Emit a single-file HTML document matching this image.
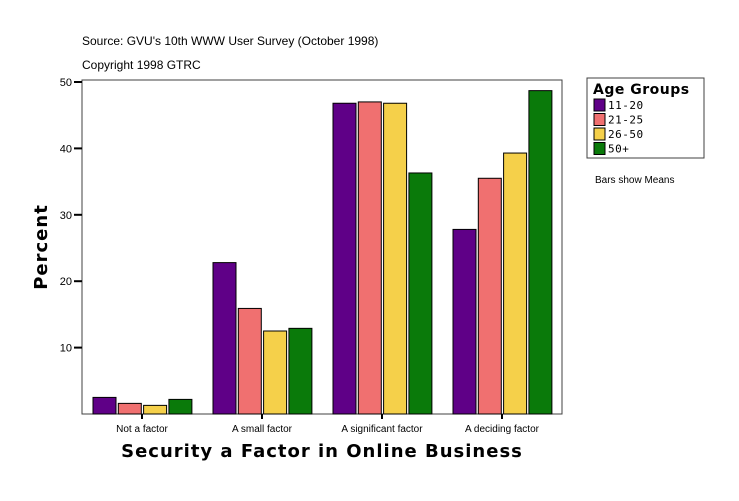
<!DOCTYPE html>
<html><head><style>
body{margin:0;background:#fff;width:739px;height:496px;overflow:hidden;font-family:"Liberation Sans",sans-serif}
</style></head><body>
<svg width="739" height="496" id="chart">
<text x="82" y="45" font-size="12">Source: GVU's 10th WWW User Survey (October 1998)</text>
<text x="82" y="69" font-size="12">Copyright 1998 GTRC</text>
<rect x="82" y="80" width="480" height="334" fill="#fff" stroke="#404040"/>
<g id="bars"></g><g id="axes"></g>
<text x="322" y="457" font-size="18" font-weight="bold" text-anchor="middle" font-family="DejaVu Sans" letter-spacing="1">Security a Factor in Online Business</text>
<text transform="translate(47,247) rotate(-90)" font-size="18" font-weight="bold" text-anchor="middle" font-family="DejaVu Sans" letter-spacing="1">Percent</text>
<g>
<rect x="587" y="78" width="117" height="80" fill="#fff" stroke="#404040"/>
<text x="593" y="94" font-size="14" font-weight="bold" font-family="DejaVu Sans" letter-spacing="0.5">Age Groups</text>
<g id="legend-items"></g>
</g>
<text x="595" y="183" font-size="10">Bars show Means</text>
</svg>
<script>
const categories=["Not a factor","A small factor","A significant factor","A deciding factor"];
const seriesNames=["11-20","21-25","26-50","50+"];
const s1=[2.5,22.8,46.8,27.8];
const s2=[1.6,15.9,47.0,35.5];
const s3=[1.3,12.5,46.8,39.3];
const s4=[2.2,12.9,36.3,48.7];
const yTicks=[10,20,30,40,50];
const colors=["#5f0087","#f07070","#f5d04a","#0a7a0a"];
const NS="http://www.w3.org/2000/svg";
const series=[s1,s2,s3,s4];
const y=v=>414-v*332/50;
const xc=i=>142+i*120;
function mk(t,a,p){const e=document.createElementNS(NS,t);for(const k in a)e.setAttribute(k,a[k]);p.appendChild(e);return e;}
const bars=document.getElementById('bars'),axes=document.getElementById('axes');
categories.forEach((c,i)=>{
 series.forEach((s,j)=>{
  const r=mk('rect',{x:xc(i)-49+j*25.3,y:y(s[i]),width:23,height:414-y(s[i]),fill:colors[j],stroke:'#000','stroke-width':1},bars);
  
  
 });
 mk('line',{x1:xc(i),x2:xc(i),y1:414,y2:419,stroke:'#000','stroke-width':2},axes);
 const t=mk('text',{x:xc(i),y:432,'font-size':10,'text-anchor':'middle'},axes);t.textContent=c;
 
 
});
yTicks.forEach(v=>{
 mk('line',{x1:74,x2:82,y1:y(v),y2:y(v),stroke:'#000','stroke-width':2},axes);
 const t=mk('text',{x:72,y:y(v)+4,'font-size':11,'text-anchor':'end'},axes);t.textContent=v;
 
 
});
const li=document.getElementById('legend-items');
seriesNames.forEach((n,j)=>{
 const r=mk('rect',{x:594,y:99+j*14.5,width:11,height:12,fill:colors[j],stroke:'#000'},li);
 
 
 const t=mk('text',{x:608,y:109+j*14.5,'font-size':11,'font-family':'DejaVu Sans Mono','letter-spacing':'0.5'},li);t.textContent=n;
 
 
});
</script>
</body></html>
